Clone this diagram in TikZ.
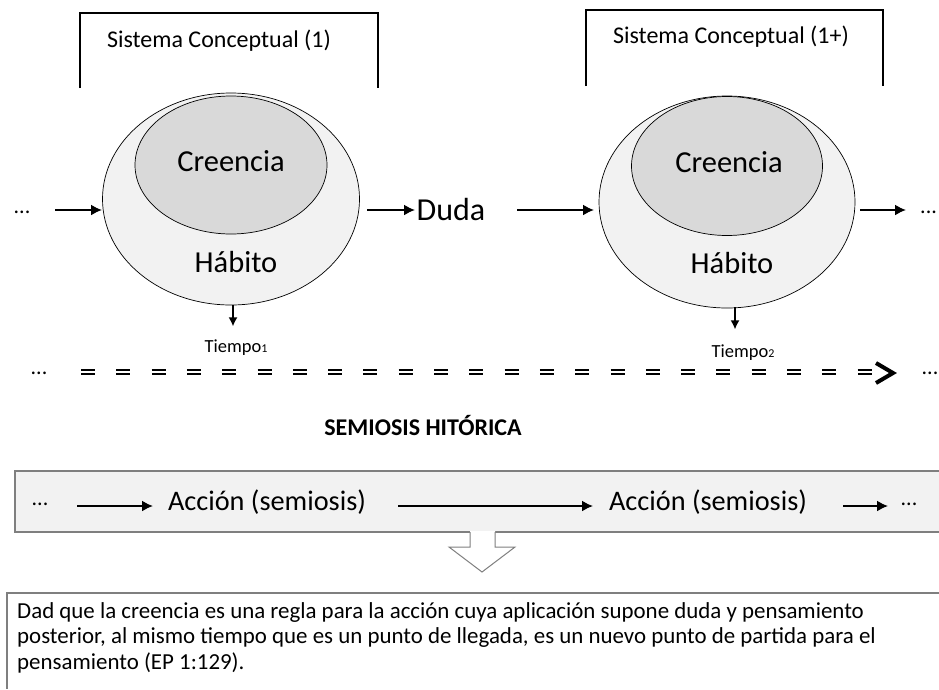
\documentclass[tikz,border=0pt]{standalone}
\usepackage{fontspec}
\setmainfont{Carlito}
\usetikzlibrary{shapes.geometric,positioning,arrows.meta}
\definecolor{habfill}{HTML}{F2F2F2}
\definecolor{crefill}{HTML}{D9D9D9}
\definecolor{boxline}{HTML}{7F7F7F}
\tikzset{
  flecha/.style={-{Latex[length=11pt,width=11pt]}, line width=1.8pt},
  elip/.style={ellipse, draw, line width=0.7pt, inner sep=0pt},
  puntos/.style={font=\fontsize{22}{22}\selectfont, inner sep=0pt},
  grande/.style={font=\fontsize{30.5}{34}\selectfont},
  llave/.style={line width=2.2pt},
}
\begin{document}
\begin{tikzpicture}[x=1pt,y=-1pt]
  \useasboundingbox (0,0) rectangle (939,689);
  % sistemas conceptuales
  \draw[llave] (80,88) -- (80,13) -- (378,13) -- (378,88);
  \draw[llave] (586,86) -- (586,10) -- (883,10) -- (883,86);
  \node[font=\fontsize{24}{28}\selectfont] (sc1) at (219,41) {Sistema Conceptual (1)};
  \node[font=\fontsize{24}{28}\selectfont] (sc2) at (731,37) {Sistema Conceptual (1+)};
  % habito y creencia
  \node[elip, fill=habfill, minimum width=257pt, minimum height=212pt] (hab1) at (231,199) {};
  \node[elip, fill=crefill, minimum width=192pt, minimum height=138pt] (cre1) at (231,165) {};
  \node[elip, fill=habfill, minimum width=256pt, minimum height=212pt] (hab2) at (727,202) {};
  \node[elip, fill=crefill, minimum width=191pt, minimum height=139pt] (cre2) at (727,166) {};
  \node[grande] at (231,161) {Creencia};
  \node[grande] at (729,162) {Creencia};
  \node[grande] at (236,262) {Hábito};
  \node[grande] at (732,263) {Hábito};
  % fila de arriba
  \node[puntos] (p0) at (22,212) {...};
  \node[font=\fontsize{32}{36}\selectfont] (duda) at (451,210) {Duda};
  \node[puntos, anchor=west] (p1) at (920,212) {...};
  \coordinate (a0) at (55,210);
  \coordinate (a1) at (102,210);
  \coordinate (a2) at (367,210);
  \coordinate (a3) at (415,210);
  \coordinate (a4) at (517,210);
  \coordinate (a5) at (594,210);
  \coordinate (a6) at (860,210);
  \coordinate (a7) at (906,210);
  \draw[flecha] (a0) -- (a1);
  \draw[flecha] (a2) -- (a3);
  \draw[flecha] (a4) -- (a5);
  \draw[flecha] (a6) -- (a7);
  % tiempo
  \node[font=\fontsize{18.5}{22}\selectfont] (t1) at (236,348) {Tiempo{\fontsize{12}{12}\selectfont 1}};
  \node[font=\fontsize{18.5}{22}\selectfont] (t2) at (743,353) {Tiempo{\fontsize{12}{12}\selectfont 2}};
  \draw[-{Latex[length=9pt,width=9pt]}, line width=1.5pt] (hab1.south) ++(2,0) -- ++(0,21);
  \draw[-{Latex[length=9pt,width=9pt]}, line width=1.5pt] (hab2.south) ++(8,-1) -- ++(0,22);
  \node[puntos] (pl) at (39,373) {...};
  \node[puntos] (pr) at (930,373) {...};
  \draw[double, double distance=2.2pt, line width=2pt, dash pattern=on 14pt off 21.3pt] (81,372) -- (876,372);
  \draw[line width=4pt, line join=miter] (876,363) -- (893,373) -- (876,383);
  \node[font=\bfseries\fontsize{24}{28}\selectfont] (sem) at (423,425) {SEMIOSIS HITÓRICA};
  % accion
  \fill[habfill] (15,471) rectangle (939,532);
  \draw[boxline, line width=1.5pt] (939,471) -- (15,471) -- (15,532) -- (939,532);
  \node[puntos] (q0) at (40,504) {...};
  \node[font=\fontsize{28.3}{32}\selectfont] (acc1) at (267,502) {Acción (semiosis)};
  \node[font=\fontsize{28.3}{32}\selectfont] (acc2) at (708,502) {Acción (semiosis)};
  \node[puntos] (q1) at (909,504) {...};
  \draw[flecha] (77,506) -- (153,506);
  \draw[flecha] (398,506) -- (593,506);
  \draw[flecha] (843,506) -- (888,506);
  % flecha hueca
  \fill[white] (470,531) -- (470,547) -- (449,547) -- (482,572) -- (515,547) -- (495,547) -- (495,531) -- cycle;
  \draw[boxline, line width=1pt] (470,532) -- (470,547) -- (449,547) -- (482,572) -- (515,547) -- (495,547) -- (495,532);
  % cita
  \draw[boxline, line width=1.5pt] (939,593) -- (7,593) -- (7,689);
  \node[anchor=north west, inner sep=0pt, align=left, font=\fontsize{22.9}{25.5}\selectfont] (cita) at (17,602)
    {Dad que la creencia es una regla para la acción cuya aplicación supone duda y pensamiento\\
     posterior, al mismo tiempo que es un punto de llegada, es un nuevo punto de partida para el\\
     pensamiento (EP 1:129).};
\end{tikzpicture}
\end{document}
